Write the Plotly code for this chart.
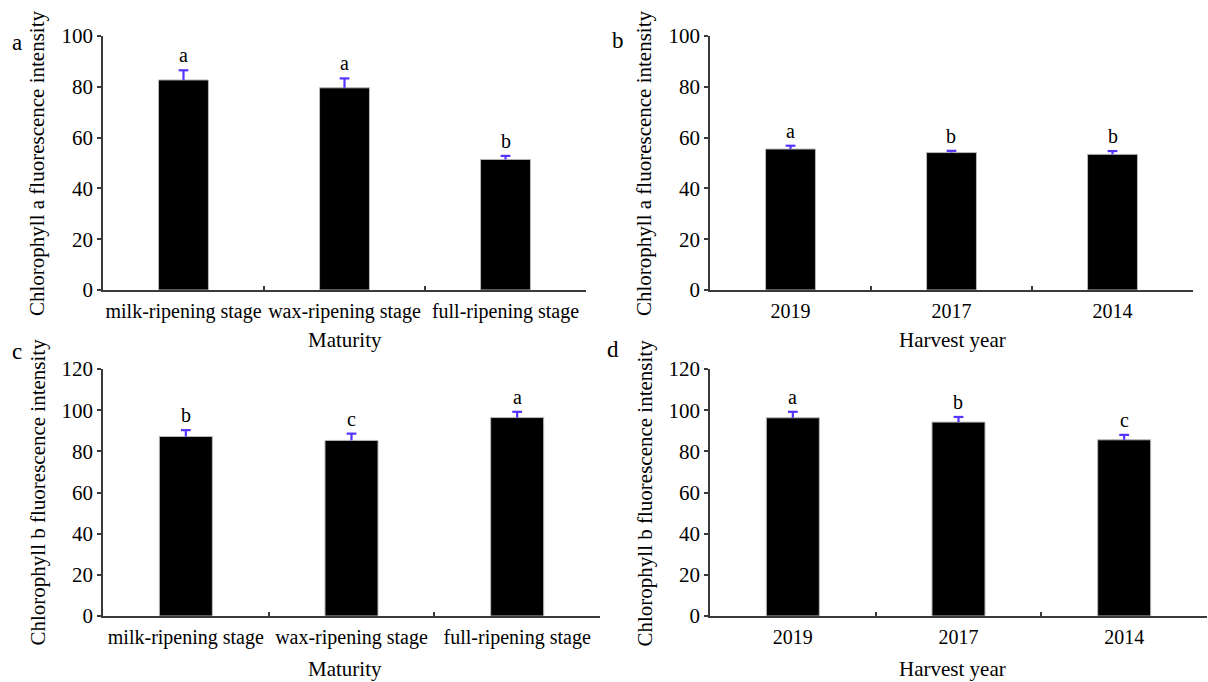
import plotly.graph_objects as go

# ---- data ----
maturity = ["milk-ripening stage", "wax-ripening stage", "full-ripening stage"]
years = ["2019", "2017", "2014"]

chl_a_maturity = [82.7, 79.6, 51.4]
chl_a_maturity_sd = [3.8, 3.7, 1.4]
chl_a_maturity_sig = ["a", "a", "b"]

chl_a_year = [55.5, 54.1, 53.4]
chl_a_year_sd = [1.3, 0.7, 1.3]
chl_a_year_sig = ["a", "b", "b"]

chl_b_maturity = [87.2, 85.3, 96.4]
chl_b_maturity_sd = [3.1, 3.3, 2.8]
chl_b_maturity_sig = ["b", "c", "a"]

chl_b_year = [96.3, 94.2, 85.6]
chl_b_year_sd = [2.9, 2.5, 2.4]
chl_b_year_sig = ["a", "b", "c"]

W, H = 1208, 682
FONT = "Liberation Serif, Times New Roman, serif"
AXIS_COLOR = "#3a3a3a"
ERR_COLOR = "#5533ff"


def px_x(p):
    return p / W


def px_y(p):
    return 1 - p / H


panels = [
    # (categories, values, sd, letters, x-domain px, y-domain px, ymax, bar width, ytitle, xtitle, panel tag)
    (maturity, chl_a_maturity, chl_a_maturity_sd, chl_a_maturity_sig, (103, 586), (36, 290), 100, 0.31,
     "Chlorophyll a fluorescence intensity", "Maturity", "a"),
    (years, chl_a_year, chl_a_year_sd, chl_a_year_sig, (710, 1193), (36, 290), 100, 0.31,
     "Chlorophyll a fluorescence intensity", "Harvest year", "b"),
    (maturity, chl_b_maturity, chl_b_maturity_sd, chl_b_maturity_sig, (103, 600), (369, 616), 120, 0.32,
     "Chlorophyll b fluorescence intensity", "Maturity", "c"),
    (years, chl_b_year, chl_b_year_sd, chl_b_year_sig, (710, 1207), (369, 616), 120, 0.32,
     "Chlorophyll b fluorescence intensity", "Harvest year", "d"),
]

panel_tag_pos = {"a": (17, 43), "b": (618, 41), "c": (17, 351), "d": (613, 349)}

fig = go.Figure()
annotations = []
layout = {}

for i, (cats, vals, sd, sig, xd, yd, ymax, bw, ytitle, xtitle, tag) in enumerate(panels, start=1):
    xa = "x" if i == 1 else f"x{i}"
    ya = "y" if i == 1 else f"y{i}"
    tops = [v + s for v, s in zip(vals, sd)]

    # bars with upper-only error stems (no caps; the cap is drawn as a marker below)
    fig.add_trace(go.Bar(
        x=cats, y=vals, width=bw,
        marker=dict(color="black", line=dict(color="#b8b8b8", width=1)),
        error_y=dict(type="data", array=sd, arrayminus=[0] * len(sd), symmetric=False,
                     color=ERR_COLOR, thickness=2.2, width=0),
        xaxis=xa, yaxis=ya, showlegend=False, hoverinfo="skip",
    ))
    # horizontal cap at the top of each error bar
    fig.add_trace(go.Scatter(
        x=cats, y=tops, mode="markers",
        marker=dict(symbol="line-ew", size=7, line=dict(color=ERR_COLOR, width=2.2)),
        xaxis=xa, yaxis=ya, showlegend=False, hoverinfo="skip",
    ))
    # significance letters above each error bar (category index on x)
    for j, (tp, t) in enumerate(zip(tops, sig)):
        annotations.append(dict(
            x=j, y=tp, xref=xa, yref=ya, text=t, showarrow=False,
            yanchor="bottom", yshift=2, font=dict(family=FONT, size=20, color="black"),
        ))

    xkey = "xaxis" if i == 1 else f"xaxis{i}"
    ykey = "yaxis" if i == 1 else f"yaxis{i}"
    layout[xkey] = dict(
        domain=[px_x(xd[0]), px_x(xd[1])], anchor=ya, type="category",
        range=[-0.5, 2.5], showline=True, linecolor=AXIS_COLOR, linewidth=1.5,
        ticks="inside", tickson="boundaries", ticklen=4, tickcolor=AXIS_COLOR, tickwidth=1.5,
        showgrid=False, zeroline=False, ticklabelstandoff=2, tickangle=0, automargin=False,
        tickfont=dict(family=FONT, size=20, color="black"),
    )
    layout[ykey] = dict(
        domain=[px_y(yd[1]), px_y(yd[0])], anchor=xa, range=[0, ymax], dtick=20,
        showline=True, linecolor=AXIS_COLOR, linewidth=1.5, automargin=False,
        ticks="outside", ticklen=4, tickcolor=AXIS_COLOR, tickwidth=1.5,
        showgrid=False, zeroline=False,
        tickfont=dict(family=FONT, size=21, color="black"),
    )

    # y-axis title
    annotations.append(dict(
        x=px_x(xd[0] - 66), y=px_y((yd[0] + yd[1]) / 2), xref="paper", yref="paper",
        text=ytitle, textangle=-90, showarrow=False, xanchor="center", yanchor="middle",
        font=dict(family=FONT, size=21, color="black"),
    ))
    # x-axis title
    xt_y = 340 if yd[0] < 300 else 669
    xt_x = 344.5 if xtitle == "Maturity" else 952
    annotations.append(dict(
        x=px_x(xt_x), y=px_y(xt_y), xref="paper", yref="paper",
        text=xtitle, showarrow=False, xanchor="center", yanchor="middle",
        font=dict(family=FONT, size=21, color="black"),
    ))
    # panel tag
    tx, ty = panel_tag_pos[tag]
    annotations.append(dict(
        x=px_x(tx), y=px_y(ty), xref="paper", yref="paper",
        text=tag, showarrow=False, xanchor="center", yanchor="middle",
        font=dict(family=FONT, size=23, color="black"),
    ))

fig.update_layout(
    width=W, height=H,
    margin=dict(l=0, r=0, t=0, b=0),
    paper_bgcolor="white", plot_bgcolor="white",
    annotations=annotations,
    font=dict(family=FONT, color="black"),
    **layout,
)

fig.write_html("out.html", config={"displayModeBar": False})
